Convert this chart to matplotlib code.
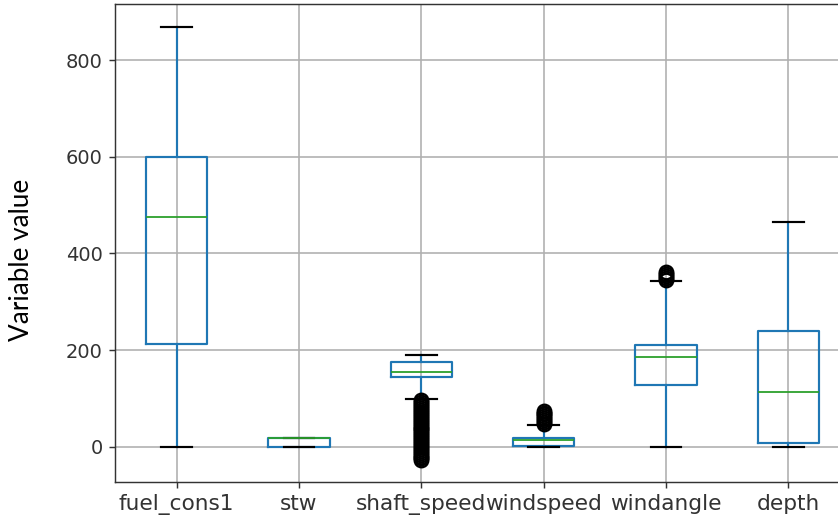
import matplotlib
matplotlib.use("Agg")
import matplotlib.pyplot as plt

# Summary statistics per variable (box = quartiles, whiskers = 1.5 IQR reach)
labels = ["fuel_cons1", "stw", "shaft_speed", "windspeed", "windangle", "depth"]
q1 = [212, 0, 144, 1, 128, 9]
med = [475, 18, 154, 14, 186, 113]
q3 = [599, 18, 176, 19, 210, 239]
whislo = [0, 0, 99, 0, 0, 0]
whishi = [868, 18, 190, 45, 343, 465]

# Outlying points beyond the whiskers
fliers_shaft = [-28, -24, -20, -16, -12, -8, -4, 0, 4, 8, 12, 16, 20, 24, 28, 32,
                36, 40, 44, 48, 52, 56, 60, 64, 68, 72, 76, 80, 84, 88, 92, 96]
fliers_wind = [47, 51, 55, 59, 63, 67, 71, 74]
fliers_angle = [345, 349, 353, 357, 361]
fliers = [[], [], fliers_shaft, fliers_wind, fliers_angle, []]

stats = []
for i, name in enumerate(labels):
    stats.append(dict(label=name, q1=q1[i], med=med[i], q3=q3[i],
                      whislo=whislo[i], whishi=whishi[i], fliers=fliers[i]))

DPI = 130
fig = plt.figure(figsize=(838 / DPI, 525 / DPI), dpi=DPI)
ax = fig.add_axes([0.1378, 0.0825, 0.8759, 0.9099])

ax.bxp(stats, widths=0.5,
       boxprops=dict(color="C0", linewidth=1.2),
       whiskerprops=dict(color="C0", linewidth=1.2),
       medianprops=dict(color="C2"),
       capprops=dict(color="k", linewidth=1.2),
       flierprops=dict(marker="o", markerfacecolor="none", markeredgecolor="k",
                       markersize=7.5, markeredgewidth=1.3))

ax.grid(True, color="#b0b0b0", linewidth=0.9)
ax.set_axisbelow(True)
ax.set_xlim(0.5, 6.5)
ax.set_ylim(-72, 916)
ax.set_yticks([0, 200, 400, 600, 800])
ax.tick_params(axis="x", labelsize=12, colors="#333333", labelcolor="#333333")
ax.tick_params(axis="y", labelsize=10.8, colors="#333333", labelcolor="#333333")
for side in ax.spines.values():
    side.set_color("#333333")

ax.set_ylabel("Variable value", fontsize=14.5, family=["Lato", "DejaVu Sans"])
ax.yaxis.label.set_va("center")
ax.yaxis.set_label_coords(-93.5 / 734, 0.464)

fig.savefig("out.png", dpi=DPI)
